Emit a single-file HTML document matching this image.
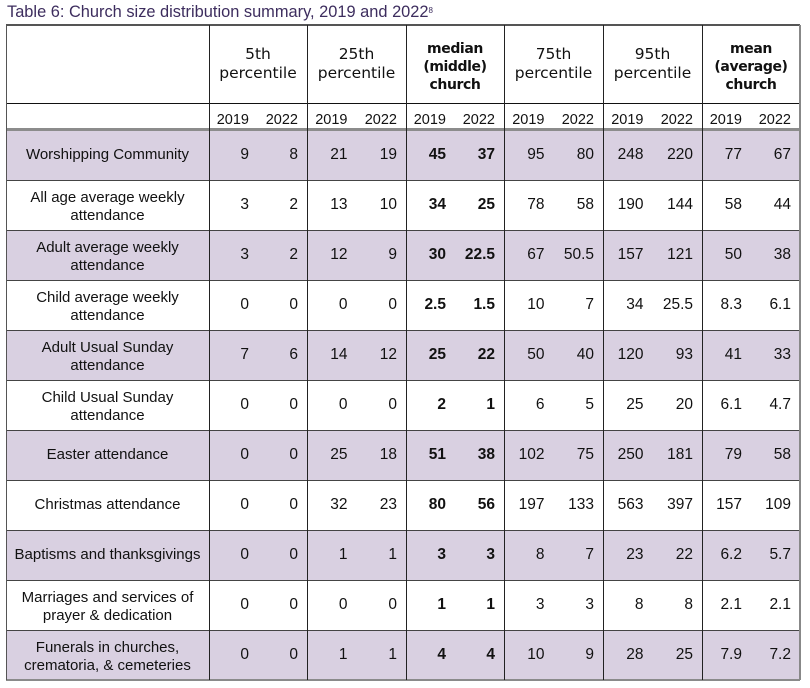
<!DOCTYPE html>
<html><head><meta charset="utf-8">
<style>
*{margin:0;padding:0;box-sizing:border-box}
html,body{width:810px;height:688px;background:#fff;overflow:hidden}
body{position:relative;font-family:"Liberation Sans",sans-serif;color:#111}
.title{position:absolute;left:7px;top:3px;font-size:16.4px;line-height:19px;color:#3d2d5e;white-space:nowrap}
.title sup{font-size:8px;vertical-align:top;position:relative;top:-2px}
.bg{position:absolute;left:6px;width:794px;height:50px;background:#d9d0e1}
.h{position:absolute;background:#444;height:1px;left:6px;width:794px}
.v{position:absolute;background:#222;width:1px;top:25px;height:655px}
.row{position:absolute;left:0;width:810px;height:50px}
.lab{position:absolute;left:6px;width:203px;top:0;height:50px;display:flex;align-items:center;justify-content:center;text-align:center;font-size:15px;line-height:18px}
.lab.two{padding-top:3px}
.n{position:absolute;top:0;height:50px;line-height:50px;text-align:right;padding-right:9px;font-size:15.5px;white-space:nowrap}
.b{font-weight:bold}
.c0{left:209px;width:49px}.c1{left:258px;width:49px}
.c2{left:307px;width:49.5px}.c3{left:356.5px;width:49.5px}
.c4{left:406px;width:49px}.c5{left:455px;width:49px}
.c6{left:504px;width:49.5px}.c7{left:553.5px;width:49.5px}
.c8{left:603px;width:49.5px}.c9{left:652.5px;width:49.5px}
.c10{left:702px;width:49px}.c11{left:751px;width:49px}
.hd{position:absolute;top:25px;height:78px;display:flex;flex-direction:column;align-items:center;justify-content:center;text-align:center;font-family:"DejaVu Sans",sans-serif;font-size:15.5px;line-height:19px;color:#111}
.hd.bold{font-weight:bold;font-size:14px;letter-spacing:-0.4px;line-height:18px;padding-top:5px}
.yr{position:absolute;top:107px;height:27px;line-height:27px;text-align:right;padding-right:9px;font-size:14.5px;color:#111}
</style></head>
<body>
<div class="title">Table 6: Church size distribution summary, 2019 and 2022<sup>8</sup></div>

<div class="bg" style="top:130px"></div>
<div class="bg" style="top:230px"></div>
<div class="bg" style="top:330px"></div>
<div class="bg" style="top:430px"></div>
<div class="bg" style="top:530px"></div>
<div class="bg" style="top:630px"></div>

<div class="hd" style="left:209px;width:98px"><div>5th</div><div>percentile</div></div>
<div class="hd" style="left:307px;width:99px"><div>25th</div><div>percentile</div></div>
<div class="hd bold" style="left:406px;width:98px"><div>median</div><div>(middle)</div><div>church</div></div>
<div class="hd" style="left:504px;width:99px"><div>75th</div><div>percentile</div></div>
<div class="hd" style="left:603px;width:99px"><div>95th</div><div>percentile</div></div>
<div class="hd bold" style="left:702px;width:98px"><div>mean</div><div>(average)</div><div>church</div></div>

<div class="yr c0">2019</div><div class="yr c1">2022</div>
<div class="yr c2">2019</div><div class="yr c3">2022</div>
<div class="yr c4">2019</div><div class="yr c5">2022</div>
<div class="yr c6">2019</div><div class="yr c7">2022</div>
<div class="yr c8">2019</div><div class="yr c9">2022</div>
<div class="yr c10">2019</div><div class="yr c11">2022</div>

<div class="row" style="top:130px">
<div class="lab">Worshipping Community</div>
<div class="n c0">9</div><div class="n c1">8</div><div class="n c2">21</div><div class="n c3">19</div>
<div class="n c4 b">45</div><div class="n c5 b">37</div><div class="n c6">95</div><div class="n c7">80</div>
<div class="n c8">248</div><div class="n c9">220</div><div class="n c10">77</div><div class="n c11">67</div>
</div>
<div class="row" style="top:180px">
<div class="lab two">All age average weekly<br>attendance</div>
<div class="n c0">3</div><div class="n c1">2</div><div class="n c2">13</div><div class="n c3">10</div>
<div class="n c4 b">34</div><div class="n c5 b">25</div><div class="n c6">78</div><div class="n c7">58</div>
<div class="n c8">190</div><div class="n c9">144</div><div class="n c10">58</div><div class="n c11">44</div>
</div>
<div class="row" style="top:230px">
<div class="lab two">Adult average weekly<br>attendance</div>
<div class="n c0">3</div><div class="n c1">2</div><div class="n c2">12</div><div class="n c3">9</div>
<div class="n c4 b">30</div><div class="n c5 b">22.5</div><div class="n c6">67</div><div class="n c7">50.5</div>
<div class="n c8">157</div><div class="n c9">121</div><div class="n c10">50</div><div class="n c11">38</div>
</div>
<div class="row" style="top:280px">
<div class="lab two">Child average weekly<br>attendance</div>
<div class="n c0">0</div><div class="n c1">0</div><div class="n c2">0</div><div class="n c3">0</div>
<div class="n c4 b">2.5</div><div class="n c5 b">1.5</div><div class="n c6">10</div><div class="n c7">7</div>
<div class="n c8">34</div><div class="n c9">25.5</div><div class="n c10">8.3</div><div class="n c11">6.1</div>
</div>
<div class="row" style="top:330px">
<div class="lab two">Adult Usual Sunday<br>attendance</div>
<div class="n c0">7</div><div class="n c1">6</div><div class="n c2">14</div><div class="n c3">12</div>
<div class="n c4 b">25</div><div class="n c5 b">22</div><div class="n c6">50</div><div class="n c7">40</div>
<div class="n c8">120</div><div class="n c9">93</div><div class="n c10">41</div><div class="n c11">33</div>
</div>
<div class="row" style="top:380px">
<div class="lab two">Child Usual Sunday<br>attendance</div>
<div class="n c0">0</div><div class="n c1">0</div><div class="n c2">0</div><div class="n c3">0</div>
<div class="n c4 b">2</div><div class="n c5 b">1</div><div class="n c6">6</div><div class="n c7">5</div>
<div class="n c8">25</div><div class="n c9">20</div><div class="n c10">6.1</div><div class="n c11">4.7</div>
</div>
<div class="row" style="top:430px">
<div class="lab">Easter attendance</div>
<div class="n c0">0</div><div class="n c1">0</div><div class="n c2">25</div><div class="n c3">18</div>
<div class="n c4 b">51</div><div class="n c5 b">38</div><div class="n c6">102</div><div class="n c7">75</div>
<div class="n c8">250</div><div class="n c9">181</div><div class="n c10">79</div><div class="n c11">58</div>
</div>
<div class="row" style="top:480px">
<div class="lab">Christmas attendance</div>
<div class="n c0">0</div><div class="n c1">0</div><div class="n c2">32</div><div class="n c3">23</div>
<div class="n c4 b">80</div><div class="n c5 b">56</div><div class="n c6">197</div><div class="n c7">133</div>
<div class="n c8">563</div><div class="n c9">397</div><div class="n c10">157</div><div class="n c11">109</div>
</div>
<div class="row" style="top:530px">
<div class="lab">Baptisms and thanksgivings</div>
<div class="n c0">0</div><div class="n c1">0</div><div class="n c2">1</div><div class="n c3">1</div>
<div class="n c4 b">3</div><div class="n c5 b">3</div><div class="n c6">8</div><div class="n c7">7</div>
<div class="n c8">23</div><div class="n c9">22</div><div class="n c10">6.2</div><div class="n c11">5.7</div>
</div>
<div class="row" style="top:580px">
<div class="lab two">Marriages and services of<br>prayer &amp; dedication</div>
<div class="n c0">0</div><div class="n c1">0</div><div class="n c2">0</div><div class="n c3">0</div>
<div class="n c4 b">1</div><div class="n c5 b">1</div><div class="n c6">3</div><div class="n c7">3</div>
<div class="n c8">8</div><div class="n c9">8</div><div class="n c10">2.1</div><div class="n c11">2.1</div>
</div>
<div class="row" style="top:630px">
<div class="lab two">Funerals in churches,<br>crematoria, &amp; cemeteries</div>
<div class="n c0">0</div><div class="n c1">0</div><div class="n c2">1</div><div class="n c3">1</div>
<div class="n c4 b">4</div><div class="n c5 b">4</div><div class="n c6">10</div><div class="n c7">9</div>
<div class="n c8">28</div><div class="n c9">25</div><div class="n c10">7.9</div><div class="n c11">7.2</div>
</div>

<div class="h" style="top:24px;height:2px;background:#555"></div>
<div class="h" style="top:103px;background:#111"></div>
<div class="h" style="top:128px;height:3px;background:#8c8c8c"></div>
<div class="h" style="top:180px"></div>
<div class="h" style="top:230px"></div>
<div class="h" style="top:280px"></div>
<div class="h" style="top:330px"></div>
<div class="h" style="top:380px"></div>
<div class="h" style="top:430px"></div>
<div class="h" style="top:480px"></div>
<div class="h" style="top:530px"></div>
<div class="h" style="top:580px"></div>
<div class="h" style="top:630px"></div>
<div class="h" style="top:679px;height:2px;background:#8a8a8a"></div>

<div class="v" style="left:6px;background:#555"></div>
<div class="v" style="left:209px"></div>
<div class="v" style="left:307px"></div>
<div class="v" style="left:406px"></div>
<div class="v" style="left:504px"></div>
<div class="v" style="left:603px"></div>
<div class="v" style="left:702px"></div>
<div class="v" style="left:799px;width:2px;background:#888"></div>
</body></html>
